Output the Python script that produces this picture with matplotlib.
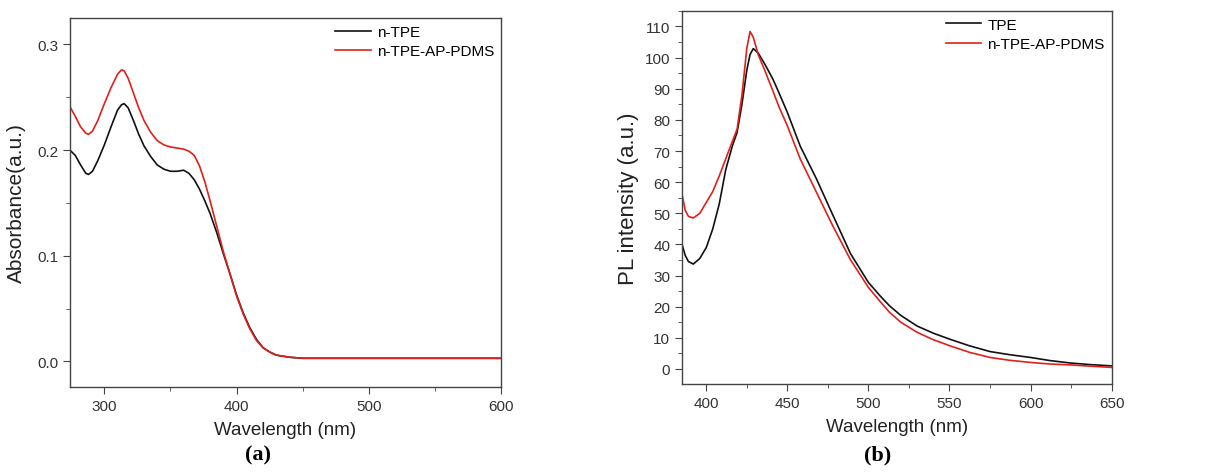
import matplotlib
matplotlib.use('Agg')
import matplotlib.pyplot as plt
from matplotlib.ticker import MultipleLocator

# panel (a): UV-vis absorbance
wl_a = [274, 278, 282, 286, 288, 291, 295, 300, 305, 310, 313, 315, 318, 322, 326,
        330, 335, 340, 345, 350, 355, 360, 364, 368, 372, 376, 380, 385, 390, 395,
        400, 405, 410, 415, 420, 425, 430, 435, 440, 450, 600]
abs_tpe = [0.200, 0.195, 0.186, 0.178, 0.177, 0.180, 0.190, 0.205, 0.222, 0.238, 0.243,
           0.244, 0.240, 0.228, 0.215, 0.204, 0.194, 0.186, 0.182, 0.180, 0.180, 0.181,
           0.178, 0.172, 0.163, 0.152, 0.140, 0.122, 0.102, 0.083, 0.063, 0.046, 0.032,
           0.021, 0.013, 0.009, 0.006, 0.005, 0.004, 0.003, 0.003]
abs_pdms = [0.241, 0.232, 0.222, 0.216, 0.215, 0.218, 0.228, 0.244, 0.259, 0.272, 0.276,
            0.275, 0.268, 0.254, 0.240, 0.228, 0.217, 0.209, 0.205, 0.203, 0.202, 0.201,
            0.199, 0.195, 0.185, 0.170, 0.152, 0.128, 0.104, 0.083, 0.062, 0.045, 0.031,
            0.020, 0.013, 0.009, 0.006, 0.005, 0.004, 0.003, 0.003]

# panel (b): PL spectra
wl_b = [385, 387, 389, 392, 396, 400, 404, 408, 412, 416, 419, 422, 425, 427, 429, 432,
        436, 441, 445, 450, 458, 468, 478, 489, 500, 507, 513, 520, 530, 540, 550, 562,
        575, 587, 600, 612, 625, 637, 650]
pl_tpe = [40.1, 36.5, 34.5, 33.7, 35.5, 39.0, 45.0, 53.0, 64.0, 71.5, 76.0, 85.0, 96.0,
          101.0, 102.9, 101.5, 98.0, 93.2, 88.5, 82.4, 71.5, 61.0, 49.5, 37.0, 27.8,
          23.6, 20.3, 17.2, 13.8, 11.5, 9.6, 7.5, 5.6, 4.6, 3.7, 2.7, 1.9, 1.4, 1.0]
pl_pdms = [56.2, 51.0, 49.0, 48.5, 50.0, 53.5, 57.0, 62.0, 67.5, 73.0, 77.0, 88.0, 103.0,
           108.4, 106.5, 101.0, 96.0, 89.4, 84.0, 78.1, 67.4, 56.7, 46.0, 35.0, 26.2,
           21.8, 18.2, 15.0, 11.8, 9.4, 7.5, 5.4, 3.7, 2.8, 2.1, 1.6, 1.3, 0.9, 0.5]

BLACK = '#111111'
RED = '#e0201b'
plt.rcParams['font.family'] = ['Liberation Sans', 'DejaVu Sans']


def style_axes(ax):
    for sp in ax.spines.values():
        sp.set_color('#444444')
        sp.set_linewidth(1.0)
    ax.tick_params(which='both', direction='out', colors='#444444', labelcolor='#333333',
                   top=False, right=False)
    ax.tick_params(which='major', length=5, labelsize=11)
    ax.tick_params(which='minor', length=3)


fig = plt.figure(figsize=(12.07, 4.77), dpi=100)

ax1 = fig.add_axes([0.058, 0.187, 0.357, 0.773])
ax1.plot(wl_a, abs_tpe, color=BLACK, lw=1.2, label='n-TPE')
ax1.plot(wl_a, abs_pdms, color=RED, lw=1.2, label='n-TPE-AP-PDMS')
ax1.set_xlim(274, 600)
ax1.set_ylim(-0.024, 0.325)
ax1.xaxis.set_major_locator(MultipleLocator(100))
ax1.xaxis.set_minor_locator(MultipleLocator(50))
ax1.yaxis.set_major_locator(MultipleLocator(0.1))
ax1.yaxis.set_minor_locator(MultipleLocator(0.05))
ax1.yaxis.set_major_formatter(plt.FormatStrFormatter('%.1f'))
ax1.set_xlabel('Wavelength (nm)', fontsize=13.5, color='#222222', labelpad=6)
ax1.set_ylabel('Absorbance(a.u.)', fontsize=15, color='#222222', labelpad=8)
style_axes(ax1)
ax1.legend(loc='upper right', frameon=False, fontsize=11, handlelength=2.3,
           handletextpad=0.4, labelspacing=0.35, borderaxespad=0.05)

ax2 = fig.add_axes([0.565, 0.193, 0.356, 0.782])
ax2.plot(wl_b, pl_tpe, color=BLACK, lw=1.2, label='TPE')
ax2.plot(wl_b, pl_pdms, color=RED, lw=1.2, label='n-TPE-AP-PDMS')
ax2.set_xlim(385, 650)
ax2.set_ylim(-4.8, 115)
ax2.xaxis.set_major_locator(MultipleLocator(50))
ax2.xaxis.set_minor_locator(MultipleLocator(25))
ax2.yaxis.set_major_locator(MultipleLocator(10))
ax2.yaxis.set_minor_locator(MultipleLocator(5))
ax2.set_xlabel('Wavelength (nm)', fontsize=13.5, color='#222222', labelpad=6)
ax2.set_ylabel('PL intensity (a.u.)', fontsize=16, color='#222222', labelpad=4)
style_axes(ax2)
ax2.legend(loc='upper right', frameon=False, fontsize=11, handlelength=2.3,
           handletextpad=0.4, labelspacing=0.35, borderaxespad=0.05)

fig.text(0.214, 0.045, '(a)', ha='center', va='center', fontsize=16,
         fontweight='bold', family='Liberation Serif')
fig.text(0.727, 0.045, '(b)', ha='center', va='center', fontsize=16,
         fontweight='bold', family='Liberation Serif')

fig.savefig('out.png', dpi=100)
